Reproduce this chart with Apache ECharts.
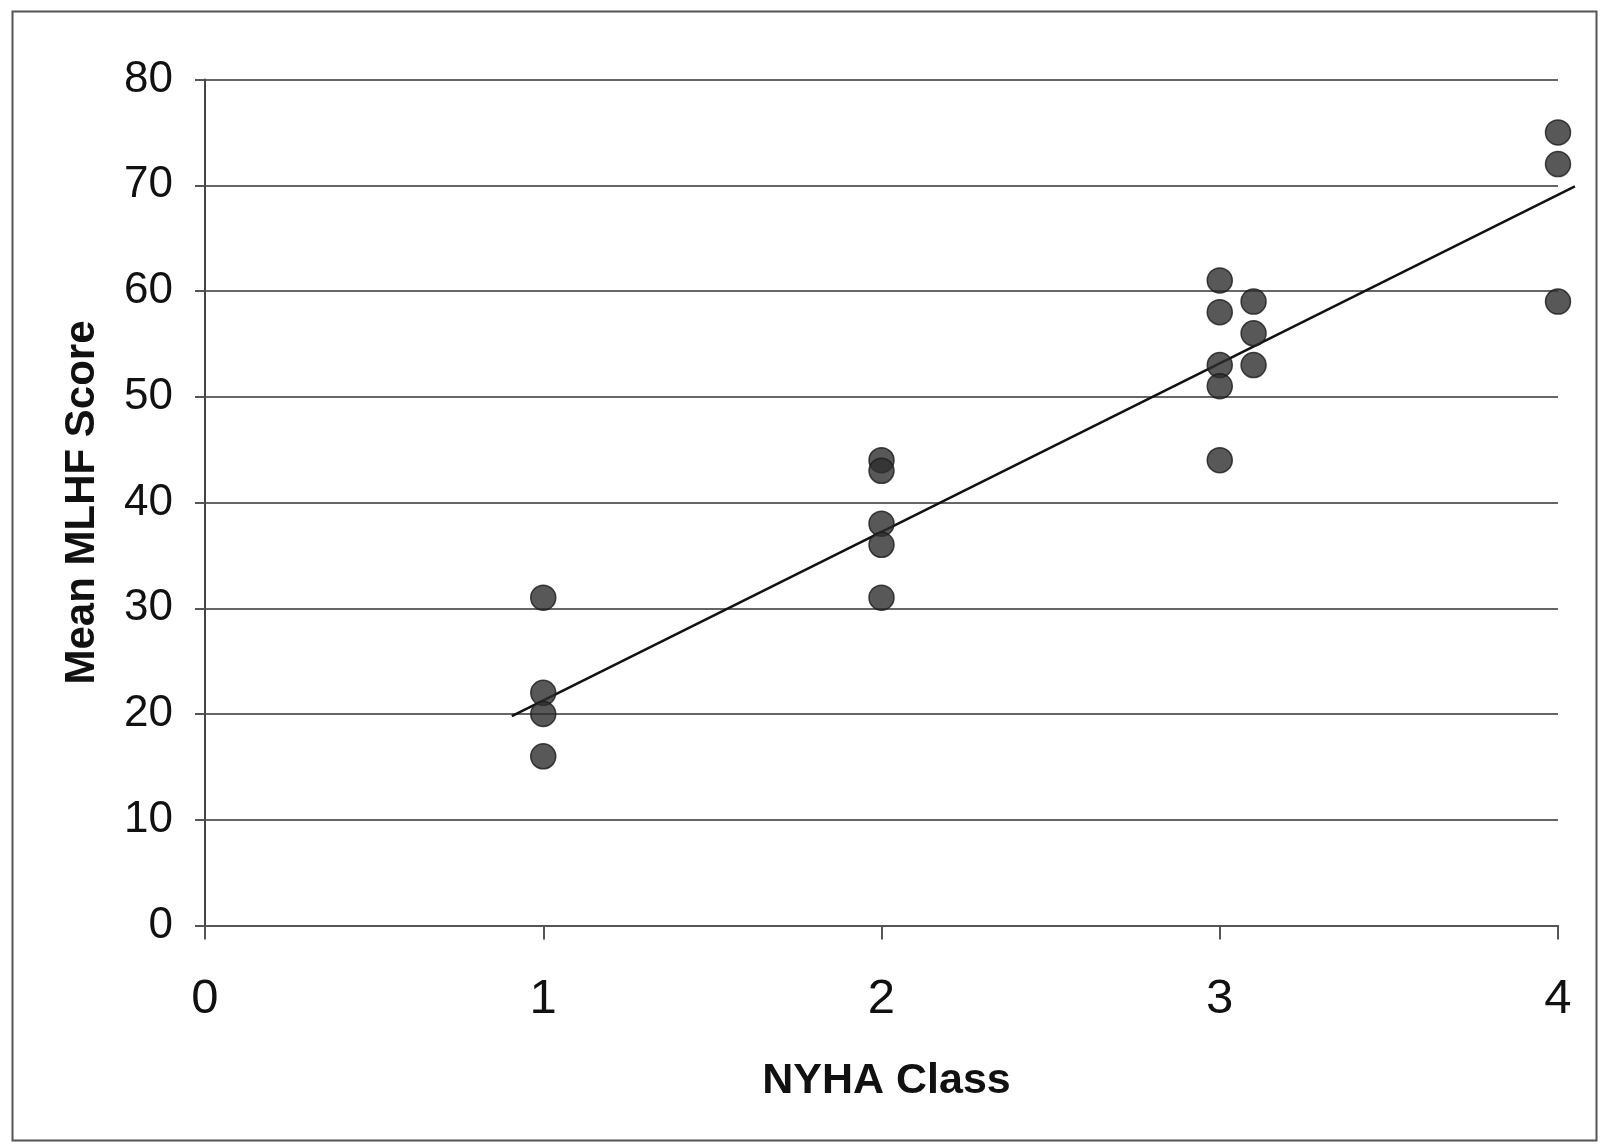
<!DOCTYPE html>
<html>
<head>
<meta charset="utf-8">
<script src="https://cdn.jsdelivr.net/npm/echarts@6/dist/echarts.min.js"></script>
<style>
  html, body { margin: 0; padding: 0; background: #fff; }
  #chart { width: 1600px; height: 1144px; }
</style>
</head>
<body>
<div id="chart"></div>
<script>
// NYHA class (x) and mean MLHF score (y) for each point
const class1 = [[1, 31], [1, 22], [1, 20], [1, 16]];
const class2 = [[2, 44], [2, 43], [2, 38], [2, 36], [2, 31]];
const class3 = [[3, 61], [3, 58], [3, 53], [3, 51], [3, 44]];
const class3b = [[3.1, 59], [3.1, 56], [3.1, 53]];
const class4 = [[4, 75], [4, 72], [4, 59]];
// Trendline endpoints as drawn
const trendline = [[0.907, 19.8], [4.05, 69.9]];
const xTicks = [0, 1, 2, 3, 4];
const yTicks = [0, 10, 20, 30, 40, 50, 60, 70, 80];

const points = [].concat(class1, class2, class3, class3b, class4);

const chart = echarts.init(document.getElementById('chart'), null, { renderer: 'canvas' });
const font = '"Liberation Sans", Arial, sans-serif';

chart.setOption({
  animation: false,
  backgroundColor: '#ffffff',
  graphic: [{
    type: 'rect',
    shape: { x: 12.5, y: 11.5, width: 1584, height: 1129 },
    style: { fill: 'none', stroke: '#555', lineWidth: 2 },
    silent: true
  }],
  grid: { left: 205, right: 42, top: 79.5, bottom: 218.5, containLabel: false },
  xAxis: {
    type: 'value',
    min: xTicks[0], max: xTicks[xTicks.length - 1], interval: 1,
    name: 'NYHA Class',
    nameLocation: 'middle',
    nameGap: 134,
    nameTextStyle: { fontFamily: font, fontSize: 43, fontWeight: 'bold', color: '#111', padding: [0, 0, 0, 10] },
    axisLine: { show: true, lineStyle: { color: '#555', width: 2 } },
    axisTick: { show: true, length: 14, lineStyle: { color: '#555', width: 2 } },
    axisLabel: { fontFamily: font, fontSize: 49, color: '#111', margin: 49 },
    splitLine: { show: false }
  },
  yAxis: {
    type: 'value',
    min: yTicks[0], max: yTicks[yTicks.length - 1], interval: 10,
    name: 'Mean MLHF Score',
    nameLocation: 'middle',
    nameGap: 102,
    nameRotate: 90,
    nameTextStyle: { fontFamily: font, fontSize: 42, fontWeight: 'bold', color: '#111' },
    axisLine: { show: true, lineStyle: { color: '#444', width: 2 } },
    axisTick: { show: true, length: 10, inside: false, lineStyle: { color: '#555', width: 2 } },
    axisLabel: { fontFamily: font, fontSize: 44, color: '#111', margin: 32 },
    splitLine: { show: true, lineStyle: { color: '#666', width: 2 } }
  },
  series: [
    {
      type: 'custom',
      clip: false,
      data: [0],
      z: 2,
      renderItem: function (params, api) {
        const p0 = api.coord(trendline[0]);
        const p1 = api.coord(trendline[1]);
        return {
          type: 'line',
          shape: { x1: p0[0], y1: p0[1], x2: p1[0], y2: p1[1] },
          style: { stroke: '#111', lineWidth: 2.5 }
        };
      }
    },
    {
      type: 'scatter',
      data: points,
      symbol: 'circle',
      symbolSize: 25,
      clip: false,
      itemStyle: { color: '#2e2e2e', borderColor: '#1a1a1a', borderWidth: 1.5 },
      z: 3
    }
  ]
});
</script>
</body>
</html>
